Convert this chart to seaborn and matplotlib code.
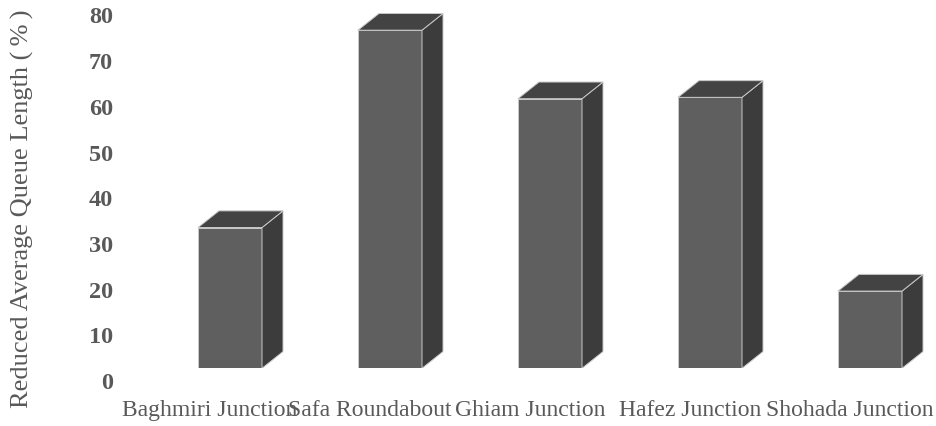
import numpy as np
import matplotlib
matplotlib.use("Agg")
import matplotlib.pyplot as plt
from matplotlib.patches import Polygon
import seaborn as sns

# values
junctions = ["Baghmiri Junction", "Safa Roundabout", "Ghiam Junction",
             "Hafez Junction", "Shohada Junction"]
reduced_queue = [30.8, 74.0, 59.0, 59.3, 16.9]
tick_values = [0, 10, 20, 30, 40, 50, 60, 70, 80]

FRONT = "#5f5f5f"
SIDE = "#3c3c3c"
TOP = "#434343"
EDGE = "#c8c8c8"
TEXT = "#595959"

sns.set_theme(style="white")
plt.rcParams["font.family"] = ["Liberation Serif", "DejaVu Serif"]

W, H = 936, 426
PX_PER_UNIT = 4.569
floor_px = 368.3  # front floor, px from top
zero_px = 381.0   # where the "0" tick label sits

fig = plt.figure(figsize=(W / 100, H / 100), dpi=100)

# axis that only carries the value labels
ax_lab = fig.add_axes([113 / W, 0, 0.001, 1])
ax_lab.set_ylim(-(H - zero_px) / PX_PER_UNIT, zero_px / PX_PER_UNIT)
ax_lab.set_yticks(tick_values)
ax_lab.set_yticklabels([str(v) for v in tick_values], fontsize=17.5,
                       fontweight="bold", color=TEXT)
ax_lab.tick_params(axis="y", length=0, pad=0)
ax_lab.set_xticks([])
for s in ax_lab.spines.values():
    s.set_visible(False)
ax_lab.patch.set_visible(False)

# bar axis
ax = fig.add_axes([150 / W, (H - floor_px) / H, (W - 150) / W, floor_px / H])
sns.barplot(x=junctions, y=reduced_queue, color=FRONT, width=0.4,
            edgecolor=EDGE, linewidth=0.7, saturation=1, ax=ax)
ax.set_xlim(-0.5, -0.5 + (W - 150) / 160)
ax.set_ylim(0, floor_px / PX_PER_UNIT)

# fake 3D depth: side and top faces
dx, dy = 21 / 160, 16.7 / PX_PER_UNIT
for p in list(ax.patches):
    x0, w, h = p.get_x(), p.get_width(), p.get_height()
    x1 = x0 + w
    side = Polygon([(x1, 0), (x1 + dx, dy), (x1 + dx, h + dy), (x1, h)],
                   closed=True, facecolor=SIDE, edgecolor=EDGE, lw=0.7)
    top = Polygon([(x0, h), (x0 + dx, h + dy), (x1 + dx, h + dy), (x1, h)],
                  closed=True, facecolor=TOP, edgecolor=EDGE, lw=0.7)
    ax.add_patch(side)
    ax.add_patch(top)

ax.set_xticks(np.arange(len(junctions)) - 0.125)
ax.set_xticklabels(junctions, fontsize=17, color=TEXT)
ax.tick_params(axis="x", length=0, pad=23)
ax.set_yticks([])
ax.set_xlabel("")
ax.set_ylabel("")
for s in ax.spines.values():
    s.set_visible(False)
ax.patch.set_visible(False)

fig.text(22 / W, 1 - 209 / H, "Reduced Average Queue Length (\u2009%\u2009)",
         rotation=90, ha="center", va="center", fontsize=19, color=TEXT)

fig.savefig("out.png", dpi=100)
